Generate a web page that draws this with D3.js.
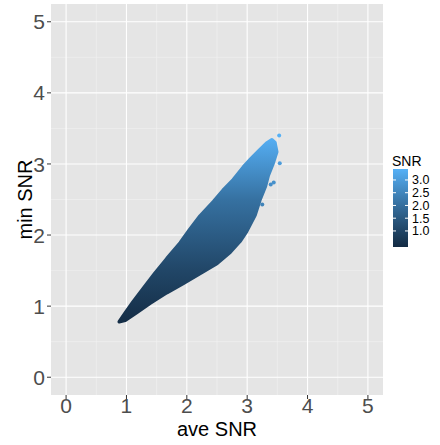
<!DOCTYPE html>
<html><head><meta charset="utf-8">
<script src="https://cdn.jsdelivr.net/npm/d3@7"></script>
<style>body{margin:0;background:#fff}svg{display:block}text{font-family:"Liberation Sans",Arial,sans-serif}</style>
</head><body><svg id="c" width="440" height="445"></svg>
<script>
// Axis ticks
const xTicks = [0, 1, 2, 3, 4, 5];
const yTicks = [0, 1, 2, 3, 4, 5];
const legendTicks = [1.0, 1.5, 2.0, 2.5, 3.0];
const snrRange = [0.37, 3.43];
// Outline of the dense point cloud (ave SNR, min SNR)
const cloudAve = [0.88, 0.976, 1.11, 1.28, 1.47, 1.67, 1.89, 2.05, 2.22, 2.44, 2.60, 2.77, 2.94, 3.07, 3.21, 3.32, 3.41, 3.46,
  3.49, 3.43, 3.35, 3.30, 3.21, 3.13, 2.99, 2.88, 2.72, 2.50, 2.22, 1.94, 1.67, 1.39, 1.17, 0.98];
const cloudMin = [0.78, 0.90, 1.06, 1.25, 1.46, 1.67, 1.89, 2.08, 2.27, 2.47, 2.63, 2.78, 2.96, 3.08, 3.20, 3.29, 3.34, 3.30,
  3.17, 3.01, 2.84, 2.68, 2.49, 2.28, 2.05, 1.91, 1.76, 1.60, 1.46, 1.32, 1.19, 1.04, 0.91, 0.80];
// SNR colour along the cloud: at these min SNR levels the points show these SNR colours
const shadeMin = [0.8, 1.5, 2.5, 3.35];
const shadeSnr = [0.45, 1.05, 2.05, 3.35];
// Isolated points
const outAve = [3.53, 3.54, 3.44, 3.39, 3.25];
const outMin = [3.40, 3.01, 2.74, 2.71, 2.43];
const outSnr = [3.40, 3.0, 2.75, 2.7, 2.45];

const svg = d3.select("#c");
const P = {l: 51, r: 383, t: 4, b: 395};
const x = d3.scaleLinear().domain([-0.25, 5.25]).range([P.l, P.r]);
const y = d3.scaleLinear().domain([-0.25, 5.25]).range([P.b, P.t]);
const col = d3.scaleLinear().domain(snrRange).range(["#132B43", "#56B1F7"]).interpolate(d3.interpolateLab);

svg.append("rect").attr("x", P.l).attr("y", P.t).attr("width", P.r - P.l).attr("height", P.b - P.t).attr("fill", "#E5E5E5");
const minor = d3.range(-0.5, 5.51, 1);
const g = svg.append("g");
g.selectAll(".mx").data(minor.filter(v => x(v) > P.l && x(v) < P.r)).join("line")
  .attr("x1", d => x(d)).attr("x2", d => x(d)).attr("y1", P.t).attr("y2", P.b).attr("stroke", "#F2F2F2").attr("stroke-width", 0.6);
g.selectAll(".my").data(minor.filter(v => y(v) < P.b && y(v) > P.t)).join("line")
  .attr("y1", d => y(d)).attr("y2", d => y(d)).attr("x1", P.l).attr("x2", P.r).attr("stroke", "#F2F2F2").attr("stroke-width", 0.6);
g.selectAll(".Mx").data(xTicks).join("line")
  .attr("x1", d => x(d)).attr("x2", d => x(d)).attr("y1", P.t).attr("y2", P.b).attr("stroke", "#fff").attr("stroke-width", 1.1);
g.selectAll(".My").data(yTicks).join("line")
  .attr("y1", d => y(d)).attr("y2", d => y(d)).attr("x1", P.l).attr("x2", P.r).attr("stroke", "#fff").attr("stroke-width", 1.1);

// gradient along y by SNR
const defs = svg.append("defs");
const y0 = y(shadeMin[0]), y1 = y(shadeMin[shadeMin.length - 1]);
const grad = defs.append("linearGradient").attr("id", "cg").attr("gradientUnits", "userSpaceOnUse")
  .attr("x1", 0).attr("x2", 0).attr("y1", y0).attr("y2", y1);
shadeMin.forEach((m, i) => grad.append("stop").attr("offset", (y(m) - y0) / (y1 - y0))
  .attr("stop-color", col(shadeSnr[i])));

const pts = cloudAve.map((a, i) => [x(a), y(cloudMin[i])]);
svg.append("path").attr("d", d3.line()(pts) + "Z")
  .attr("fill", "url(#cg)").attr("stroke", "url(#cg)").attr("stroke-width", 3.5).attr("stroke-linejoin", "round");
svg.selectAll(".o").data(outAve).join("circle")
  .attr("cx", d => x(d)).attr("cy", (d, i) => y(outMin[i])).attr("r", 2).attr("fill", (d, i) => col(outSnr[i]));

// axes
const ax = svg.append("g");
ax.selectAll(".xt").data(xTicks).join("line").attr("x1", d => x(d)).attr("x2", d => x(d))
  .attr("y1", P.b).attr("y2", P.b + 4).attr("stroke", "#333").attr("stroke-width", 1);
ax.selectAll(".xl").data(xTicks).join("text").attr("x", d => x(d)).attr("y", 413)
  .attr("text-anchor", "middle").attr("font-size", 21).attr("fill", "#4D4D4D").text(d => d);
ax.selectAll(".yt").data(yTicks).join("line").attr("y1", d => y(d)).attr("y2", d => y(d))
  .attr("x1", P.l - 4).attr("x2", P.l).attr("stroke", "#333").attr("stroke-width", 1);
ax.selectAll(".yl").data(yTicks).join("text").attr("x", 45).attr("y", d => y(d)).attr("dy", "0.36em")
  .attr("text-anchor", "end").attr("font-size", 21).attr("fill", "#4D4D4D").text(d => d);
svg.append("text").attr("x", (P.l + P.r) / 2).attr("y", 436).attr("text-anchor", "middle")
  .attr("font-size", 20).attr("fill", "#000").text("ave SNR");
svg.append("text").attr("transform", `translate(32,${(P.t + P.b) / 2}) rotate(-90)`).attr("text-anchor", "middle")
  .attr("font-size", 20).attr("fill", "#000").text("min SNR");

// legend
const lb = {x: 393, w: 15, t: 169, b: 247};
const ly = d3.scaleLinear().domain(snrRange).range([lb.b, lb.t]);
const lg = defs.append("linearGradient").attr("id", "lg").attr("x1", 0).attr("x2", 0).attr("y1", 1).attr("y2", 0);
d3.range(0, 1.001, 0.1).forEach(t => lg.append("stop").attr("offset", t)
  .attr("stop-color", col(snrRange[0] + t * (snrRange[1] - snrRange[0]))));
svg.append("rect").attr("x", lb.x).attr("y", lb.t).attr("width", lb.w).attr("height", lb.b - lb.t).attr("fill", "url(#lg)");
svg.selectAll(".lt1").data(legendTicks).join("line").attr("x1", lb.x).attr("x2", lb.x + 3)
  .attr("y1", d => ly(d)).attr("y2", d => ly(d)).attr("stroke", "#fff").attr("stroke-width", 1);
svg.selectAll(".lt2").data(legendTicks).join("line").attr("x1", lb.x + lb.w - 3).attr("x2", lb.x + lb.w)
  .attr("y1", d => ly(d)).attr("y2", d => ly(d)).attr("stroke", "#fff").attr("stroke-width", 1);
svg.selectAll(".ll").data(legendTicks).join("text").attr("x", 412).attr("y", d => ly(d)).attr("dy", "0.36em")
  .attr("font-size", 12.5).attr("fill", "#000").text(d => d.toFixed(1));
svg.append("text").attr("x", 392).attr("y", 166).attr("font-size", 14).attr("fill", "#000").text("SNR");
</script></body></html>
